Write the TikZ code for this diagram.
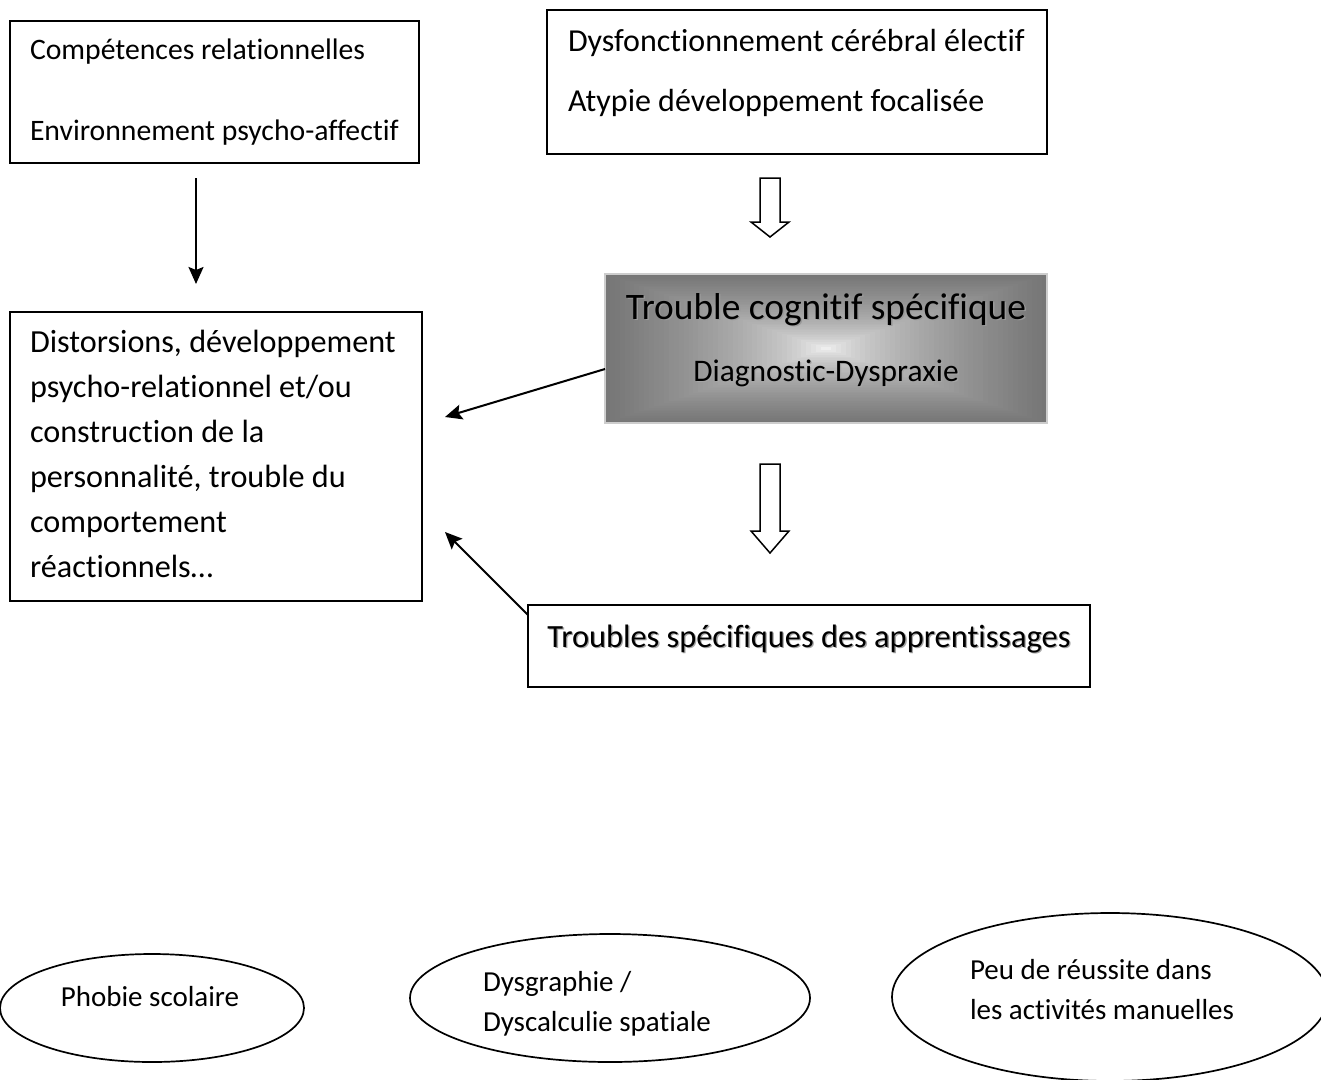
\documentclass[tikz,border=0pt]{standalone}
\usepackage{fontspec}
\setmainfont{Carlito}[Ligatures=NoCommon]
\usetikzlibrary{shapes.geometric,arrows.meta}
\newcommand\myfs[1]{\fontsize{#1}{#1}\selectfont}
\definecolor{gboxc}{RGB}{118,118,118}
\definecolor{gedge}{RGB}{205,205,205}
\tikzset{
  box/.style={draw=black, line width=2pt, rectangle, inner sep=0pt, outer sep=0pt},
  ell/.style={draw=black, line width=1.7pt, ellipse, inner sep=0pt, outer sep=0pt},
  txt/.style={inner sep=0pt, outer sep=0pt, anchor=base west},
  ctxt/.style={inner sep=0pt, outer sep=0pt, anchor=base},
  arr/.style={line width=2pt, -{Stealth[length=17pt,width=15pt,inset=3pt]}},
  hollow/.style={draw=black, line width=1.5pt, fill=white, line join=miter}
}
\begin{document}
\begin{tikzpicture}[x=1pt,y=-1pt]
\useasboundingbox (0,0) rectangle (1321,1079);
\clip (0,0) rectangle (1321,1079);
\fill[white] (0,0) rectangle (1321,1079);

% top-left box
\node[box, minimum width=409pt, minimum height=142pt] (tl) at (214.5,92) {};
\node[txt] (tl1) at (30,59) {\myfs{29.7}Compétences relationnelles};
\node[txt] (tl2) at (30,140) {\myfs{29.7}Environnement psycho-affectif};

% top-right box
\node[box, minimum width=500pt, minimum height=144pt] (tr) at (797,82) {};
\node[txt] (tr1) at (568,51) {\myfs{32}Dysfonctionnement cérébral électif};
\node[txt] (tr2) at (568,111) {\myfs{32}Atypie développement focalisée};

% hollow arrow 1
\draw[hollow] (760,178) -- (780,178) -- (780,222) -- (789,222) -- (770,237) -- (751,222) -- (760,222) -- cycle;

% gradient box
\foreach \i in {0,...,44}{
  \pgfmathsetmacro\fr{1-\i/45}
  \pgfmathsetmacro\pc{100*(\fr^0.55)}
  \fill[gboxc!\pc!white] (826-221*\fr,348.5-74.5*\fr) rectangle (826+221*\fr,348.5+74.5*\fr);
}
\node[draw=gedge, line width=1.2pt, rectangle, inner sep=0pt, outer sep=0pt, minimum width=442pt, minimum height=149pt] (gb) at (826,348.5) {};
\node[ctxt, text=black!40] (gb1s) at (827.5,320.5) {\myfs{37.4}Trouble cognitif spécifique};
\node[ctxt] (gb1) at (826,319) {\myfs{37.4}Trouble cognitif spécifique};
\node[ctxt, text=black!35] (gb2s) at (827.3,382.3) {\myfs{31.4}Diagnostic-Dyspraxie};
\node[ctxt] (gb2) at (826,381) {\myfs{31.4}Diagnostic-Dyspraxie};

% hollow arrow 2
\draw[hollow] (760,464) -- (780,464) -- (780,531) -- (789,531) -- (770,553) -- (751,531) -- (760,531) -- cycle;

% middle-left box
\node[box, minimum width=412pt, minimum height=289pt] (ml) at (216,456.5) {};
\node[txt] (ml1) at (30,352) {\myfs{32.2}Distorsions, développement};
\node[txt] (ml2) at (30,397) {\myfs{32.2}psycho-relationnel et/ou};
\node[txt] (ml3) at (30,442) {\myfs{32.2}construction de la};
\node[txt] (ml4) at (30,487) {\myfs{32.2}personnalité, trouble du};
\node[txt] (ml5) at (30,532) {\myfs{32.2}comportement};
\node[txt] (ml6) at (30,577) {\myfs{32.2}réactionnels…};

% bottom box
\node[box, minimum width=562pt, minimum height=82pt] (tb) at (809,646) {};
\node[ctxt, text=black!35] (tb1s) at (810.3,648.3) {\myfs{32.4}Troubles spécifiques des apprentissages};
\node[ctxt] (tb1) at (809,647) {\myfs{32.4}Troubles spécifiques des apprentissages};

% connectors
\draw[arr] ([xshift=-18.5pt,yshift=-15pt]tl.south) -- ([xshift=-20pt,yshift=28pt]ml.north);
\draw[arr] ([yshift=-20.5pt]gb.west) -- ([xshift=23pt,yshift=39.5pt]ml.east);
\draw[arr] ([yshift=-10pt]tb.north west) -- ([xshift=23pt,yshift=-75.5pt]ml.east);

% ellipses
\node[ell, minimum width=304pt, minimum height=108pt] (e1) at (152,1008) {};
\node[ctxt] (e1t) at (150,1006) {\myfs{29}Phobie scolaire};
\node[ell, minimum width=400pt, minimum height=128pt] (e2) at (610,998) {};
\node[txt] (e2a) at (483,991) {\myfs{29}Dysgraphie /};
\node[txt] (e2b) at (483,1031) {\myfs{29}Dyscalculie spatiale};
\node[ell, minimum width=436pt, minimum height=168pt] (e3) at (1110,997) {};
\node[txt] (e3a) at (970,979) {\myfs{29}Peu de réussite dans};
\node[txt] (e3b) at (970,1019) {\myfs{29}les activités manuelles};
\end{tikzpicture}
\end{document}
